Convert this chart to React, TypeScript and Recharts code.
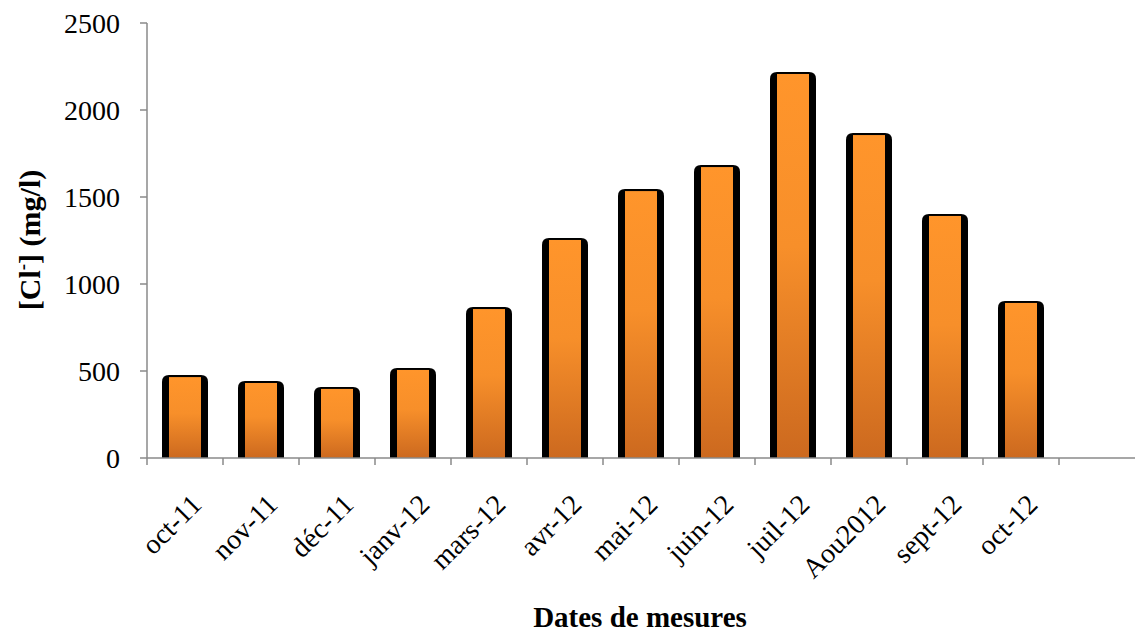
import React from 'react';
import { BarChart, Bar, XAxis, YAxis } from 'recharts';

const months = ['oct-11', 'nov-11', 'déc-11', 'janv-12', 'mars-12', 'avr-12', 'mai-12', 'juin-12', 'juil-12', 'Aou2012', 'sept-12', 'oct-12', ''];
const chloride: (number | null)[] = [465, 431, 397, 506, 856, 1253, 1534, 1672, 2207, 1856, 1391, 891, null];
const yTicks = [0, 500, 1000, 1500, 2000, 2500];

const data = months.map((m, i) => ({ month: m, cl: chloride[i] }));

const W = 1135;
const H = 634;
const LEFT = 147;
const TOP = 23;
const BOTTOM = 176;
const BAND = (W - LEFT) / months.length;
const AXIS = '#8a8a8a';
const FONT = '"Liberation Serif", "Times New Roman", serif';

const BarShape = (props: any) => {
  const { x, y, width, height } = props;
  if (!height || height <= 0) return null;
  const r = 7;
  const top = y - 2;
  const bottom = y + height;
  const d = `M${x},${bottom} L${x},${top + r} Q${x},${top} ${x + r},${top} L${x + width - r},${top} Q${x + width},${top} ${x + width},${top + r} L${x + width},${bottom} Z`;
  return (
    <g>
      <path d={d} fill="#000" />
      <rect x={x + 7} y={y} width={width - 14} height={height} fill="url(#orangeGrad)" />
    </g>
  );
};

const MonthTick = (props: any) => {
  const { x, y, payload } = props;
  const left = x - BAND / 2;
  return (
    <g>
      <line x1={left} y1={y} x2={left} y2={y + 7} stroke={AXIS} strokeWidth={1.5} />
      {payload.value && (
        <g transform={`translate(${x + 4}, ${y + 34}) rotate(-45)`}>
          <text x={0} y={0} textAnchor="end" dominantBaseline="hanging" fontFamily={FONT} fontSize={28} fill="#000">
            {payload.value}
          </text>
        </g>
      )}
    </g>
  );
};

const YLabel = () => (
  <g transform="translate(30, 240) rotate(-90)">
    <text x={0} y={10} textAnchor="middle" fontFamily={FONT} fontWeight="bold" fontSize={30} fill="#000">
      [Cl<tspan fontSize={19} dy={-11}>-</tspan><tspan dy={11}>] (mg/l)</tspan>
    </text>
  </g>
);

const XLabel = () => (
  <text x={640} y={627} textAnchor="middle" fontFamily={FONT} fontWeight="bold" fontSize={29} fill="#000">
    Dates de mesures
  </text>
);

export default function App() {
  return (
    <div style={{ position: 'absolute', left: 0, top: 0, width: W, height: H, background: '#fff' }}>
      <BarChart width={W} height={H} data={data} margin={{ top: TOP, right: 0, bottom: 0, left: 0 }} barSize={46}>
        <defs>
          <linearGradient id="orangeGrad" x1="0" y1="0" x2="0" y2="1">
            <stop offset="0%" stopColor="#FF952B" />
            <stop offset="45%" stopColor="#F78F2A" />
            <stop offset="100%" stopColor="#CC691F" />
          </linearGradient>
        </defs>
        <XAxis
          dataKey="month"
          height={BOTTOM}
          interval={0}
          tickLine={false}
          tickSize={0}
          tickMargin={0}
          stroke={AXIS}
          strokeWidth={1.5}
          tick={<MonthTick />}
          label={<XLabel />}
        />
        <YAxis
          width={LEFT}
          domain={[0, 2500]}
          ticks={yTicks}
          tickSize={7}
          tickMargin={20}
          stroke={AXIS}
          strokeWidth={1.5}
          tick={{ fill: '#000', fontSize: 28, fontFamily: FONT }}
          label={<YLabel />}
        />
        <Bar dataKey="cl" shape={<BarShape />} isAnimationActive={false} />
      </BarChart>
    </div>
  );
}
